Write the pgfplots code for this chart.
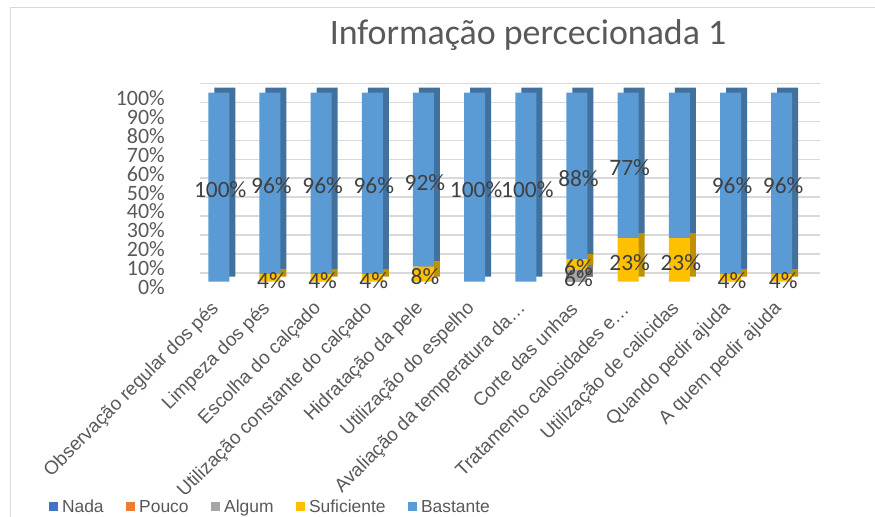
\documentclass[border=0pt]{standalone}
\usepackage{pgfplots}
\pgfplotsset{compat=1.18}
\usepackage{fontspec}
\setmainfont{Liberation Sans}
\newfontfamily\carlito{Carlito}
\definecolor{cNada}{HTML}{4472C4}
\definecolor{cPouco}{HTML}{ED7D31}
\definecolor{cAlgum}{HTML}{A5A5A5}
\definecolor{cSuf}{HTML}{FFC000}
\definecolor{cBast}{HTML}{5B9BD5}
\definecolor{dAlgum}{HTML}{7C7C7C}
\definecolor{dSuf}{HTML}{BF9000}
\definecolor{dBast}{HTML}{41719C}
\definecolor{txt}{HTML}{595959}
\definecolor{lbl}{HTML}{404040}
\definecolor{gridc}{HTML}{D9D9D9}
\pgfplotsset{
  common/.style={scale only axis, width=632.5bp, height=189bp,
    xmin=-0.66, xmax=11.7, ymin=0, ymax=100, anchor=south west,
    enlargelimits=false},
  legsq/.style={legend image code/.code={\fill[##1] (0bp,-4.5bp) rectangle (9bp,4.5bp);}},
}
\begin{document}
\begin{tikzpicture}
\useasboundingbox (0,0) rectangle (875bp,517bp);
\fill[white] (0,0) rectangle (875bp,517bp);
\draw[gridc, line width=1bp] (10bp,0) -- (10bp,509bp) -- (875bp,509bp);

% back wall grid
\begin{axis}[scale only axis, at={(200bp,244bp)}, anchor=south west,
  width=620bp, height=189.7bp, xmin=0, xmax=1, ymin=0, ymax=100,
  xtick=\empty, ytick={0,10,...,100}, yticklabels={}, ymajorgrids,
  major grid style={gridc, line width=1.3bp}, major tick length=0pt,
  axis line style={draw=none}]
\addplot[draw=none] coordinates {(0,0) (1,100)};
\end{axis}

% depth (side and top faces)
\begin{axis}[common, at={(191bp,240.3bp)}, hide axis, ybar stacked, bar width=21bp]
\addplot[fill=dAlgum, draw=none] coordinates {(0,0) (1,0) (2,0) (3,0) (4,0) (5,0) (6,0) (7,6) (8,0) (9,0) (10,0) (11,0)};
\addplot[fill=dSuf, draw=none] coordinates {(0,0) (1,4) (2,4) (3,4) (4,8) (5,0) (6,0) (7,6) (8,23) (9,23) (10,4) (11,4)};
\addplot[fill=dBast, draw=none] coordinates {(0,100) (1,96) (2,96) (3,96) (4,92) (5,100) (6,100) (7,88) (8,77) (9,77) (10,96) (11,96)};
\end{axis}

% front faces
\begin{axis}[common, at={(185bp,235.3bp)}, ybar stacked, bar width=21bp,
  clip=false, axis line style={draw=none}, major tick length=0pt,
  xtick={0,1,...,11},
  xticklabels={Observação regular dos pés, Limpeza dos pés, Escolha do calçado,
    Utilização constante do calçado, Hidratação da pele, Utilização do espelho,
    Avaliação da temperatura da…, Corte das unhas, Tratamento calosidades e…,
    Utilização de calicidas, Quando pedir ajuda, A quem pedir ajuda},
  xticklabel style={rotate=45, anchor=east, inner sep=0pt,
    font=\fontsize{19}{19}\selectfont, text=txt, xshift=-19bp, yshift=-15bp},
  ytick={0,10,...,100},
  yticklabels={0\%,10\%,20\%,30\%,40\%,50\%,60\%,70\%,80\%,90\%,100\%},
  yticklabel style={anchor=east, inner sep=0pt,
    font=\carlito\fontsize{22}{22}\selectfont, text=txt, xshift=-20bp, yshift=-5.5bp},
  legend columns=5,
  legend style={at={(axis description cs:-0.215,-1.192)}, anchor=west,
    draw=none, fill=none, inner sep=0pt, outer sep=0pt,
    font=\fontsize{17.5}{17.5}\selectfont, text=txt, nodes={inner sep=0pt},
    /tikz/every odd column/.append style={column sep=4bp},
    /tikz/every even column/.append style={column sep=22.5bp}},
]
\addplot[fill=cNada, draw=none, legsq] coordinates {(0,0) (1,0) (2,0) (3,0) (4,0) (5,0) (6,0) (7,0) (8,0) (9,0) (10,0) (11,0)};
\addlegendentry{Nada}
\addplot[fill=cPouco, draw=none, legsq] coordinates {(0,0) (1,0) (2,0) (3,0) (4,0) (5,0) (6,0) (7,0) (8,0) (9,0) (10,0) (11,0)};
\addlegendentry{Pouco}
\addplot[fill=cAlgum, draw=none, legsq] coordinates {(0,0) (1,0) (2,0) (3,0) (4,0) (5,0) (6,0) (7,6) (8,0) (9,0) (10,0) (11,0)};
\addlegendentry{Algum}
\addplot[fill=cSuf, draw=none, legsq] coordinates {(0,0) (1,4) (2,4) (3,4) (4,8) (5,0) (6,0) (7,6) (8,23) (9,23) (10,4) (11,4)};
\addlegendentry{Suficiente}
\addplot[fill=cBast, draw=none, legsq] coordinates {(0,100) (1,96) (2,96) (3,96) (4,92) (5,100) (6,100) (7,88) (8,77) (9,77) (10,96) (11,96)};
\addlegendentry{Bastante}
\node[font=\carlito\fontsize{36}{36}\selectfont, text=txt, anchor=base]
  at (axis description cs:0.5423,1.2524) {Informação percecionada 1};
\end{axis}

% data labels
\begin{axis}[common, at={(185bp,235.3bp)}, hide axis, clip=false]
\addplot[only marks, mark=none, nodes near coords, point meta=explicit symbolic,
  nodes near coords align={center},
  nodes near coords style={anchor=center, inner sep=0pt,
    font=\carlito\fontsize{23.5}{23.5}\selectfont, text=lbl, xshift=1.5bp, yshift=-2.5bp}]
coordinates {
 (0,50) [100\%] (1,52) [96\%] (2,52) [96\%] (3,52) [96\%] (4,54) [92\%]
 (5,50) [100\%] (6,50) [100\%] (7,56) [88\%] (8,61.5) [77\%]
 (10,52) [96\%] (11,52) [96\%]
 (1,2) [4\%] (2,2) [4\%] (3,2) [4\%] (4,4) [8\%] (7,9) [6\%]
 (8,11.5) [23\%] (9,11.5) [23\%] (10,2) [4\%] (11,2) [4\%]
 (7,3) [6\%]
};
\end{axis}
\end{tikzpicture}
\end{document}
